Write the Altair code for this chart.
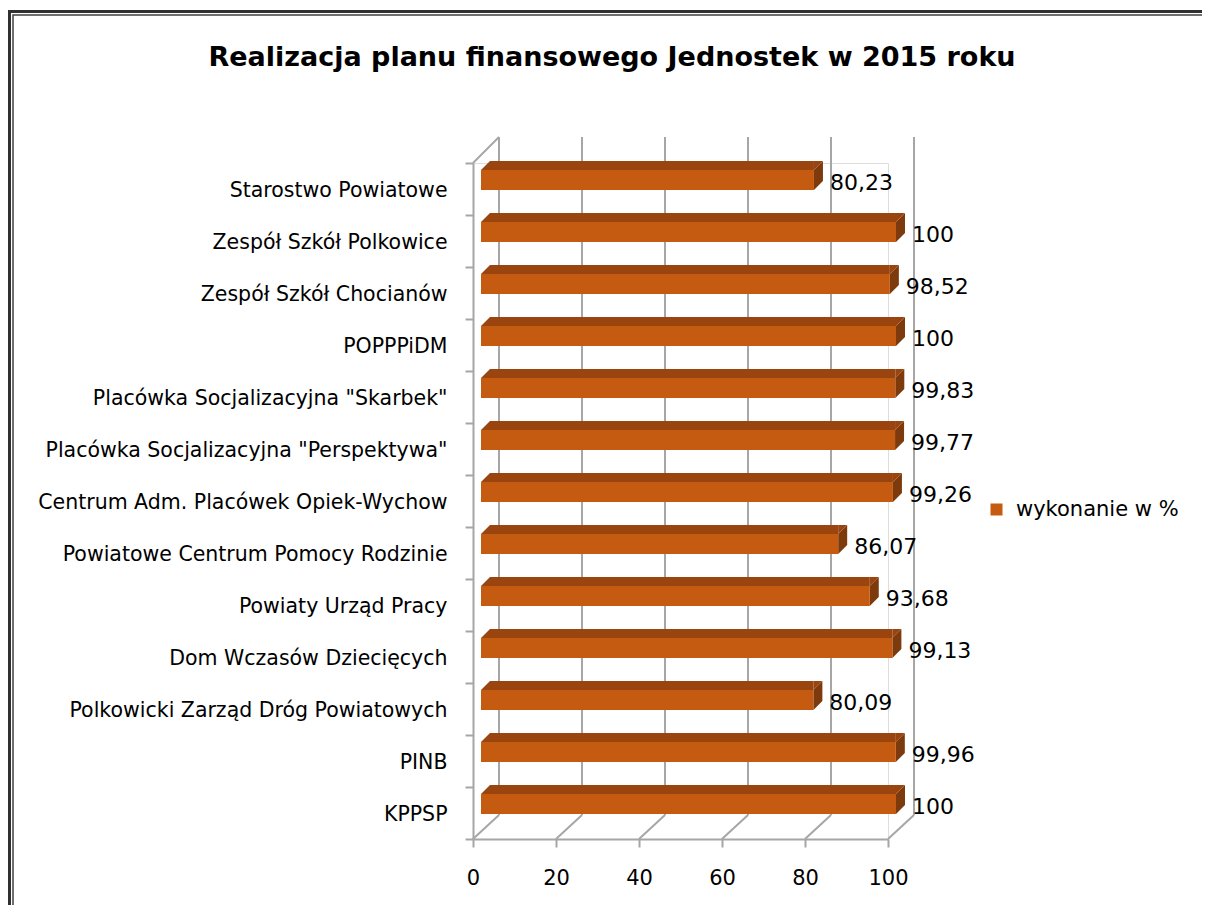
import altair as alt
import pandas as pd

categories = [
    "Starostwo Powiatowe",
    "Zespół Szkół Polkowice",
    "Zespół Szkół Chocianów",
    "POPPPiDM",
    'Placówka Socjalizacyjna "Skarbek"',
    'Placówka Socjalizacyjna "Perspektywa"',
    "Centrum Adm. Placówek Opiek-Wychow",
    "Powiatowe Centrum Pomocy Rodzinie",
    "Powiaty Urząd Pracy",
    "Dom Wczasów Dziecięcych",
    "Polkowicki Zarząd Dróg Powiatowych",
    "PINB",
    "KPPSP",
]
values = [80.23, 100, 98.52, 100, 99.83, 99.77, 99.26, 86.07, 93.68, 99.13, 80.09, 99.96, 100]
series_name = "wykonanie w %"
x_ticks = [0, 20, 40, 60, 80, 100]
title_text = "Realizacja planu finansowego Jednostek w 2015 roku"

FONT = "DejaVu Sans"
FRONT = "#C55A11"
TOP = "#9A4510"
SIDE = "#7D3A0C"
GRID = "#A6A6A6"

df = pd.DataFrame({
    "cat": categories,
    "val": values,
    "label": [f"{v:g}".replace(".", ",") for v in values],
    "series": [series_name] * len(values),
})
tdf = pd.DataFrame({"t": x_ticks})
one = pd.DataFrame({"t": [0]})

W, H = 415, 676
PAD = {"left": 465, "top": 155, "right": 314, "bottom": 66}
RIGHT_EDGE = W + PAD["right"]
BOTTOM_EDGE = H + PAD["bottom"]

D = 9          # 3-D depth in pixels
F = 8          # front face shift from axis frame
BH = 20        # bar face height

xscale = alt.Scale(domain=[0, 100], nice=False, zero=True)
X = alt.X("val:Q", scale=xscale,
          axis=alt.Axis(values=x_ticks, grid=False, title=None, domainColor=GRID,
                        domainWidth=2, tickColor=GRID, tickWidth=2, tickSize=8,
                        labelFontSize=21, labelFont=FONT, labelColor="black",
                        labelPadding=20, labelFlush=False))
Y = alt.Y("cat:N", sort=categories,
          scale=alt.Scale(paddingInner=0, paddingOuter=0),
          axis=alt.Axis(title=None, grid=False, domainColor=GRID, domainWidth=2,
                        tickColor=GRID, tickWidth=2, tickSize=8, tickBand="extent",
                        labelFontSize=20.5, labelFont=FONT, labelColor="black",
                        labelPadding=18, labelOffset=1, labelLimit=460))
XV = alt.X("val:Q", scale=xscale)

base = alt.Chart(df)

grid = alt.Chart(tdf).mark_rule(color=GRID, strokeWidth=2, xOffset=26, x2Offset=26).encode(
    x=alt.X("t:Q", scale=xscale), y=alt.value(-26), y2=alt.value(652))
floor = alt.Chart(tdf).mark_rule(color=GRID, strokeWidth=2, xOffset=26, x2Offset=0).encode(
    x=alt.X("t:Q", scale=xscale), x2="t:Q", y=alt.value(652), y2=alt.value(676))
leftdiag = alt.Chart(one).mark_rule(color=GRID, strokeWidth=2, xOffset=0, x2Offset=26).encode(
    x=alt.X("t:Q", scale=xscale), x2="t:Q", y=alt.value(0), y2=alt.value(-26))

FY = -9
TY = FY - BH / 2 - D / 2
SY = FY - D / 2

side_rect = base.mark_bar(color=SIDE, size=BH - D, xOffset=F, x2Offset=F + D,
                          yOffset=SY, y2Offset=SY).encode(x=XV, x2="val:Q", y=Y)
tri_size = D * D
side_tri_top = base.mark_point(shape="M-1,1L1,-1L1,1Z", filled=True, size=tri_size, color=SIDE,
                               opacity=1, strokeWidth=0, xOffset=F + D / 2, yOffset=TY).encode(
    x=XV, y=Y)
side_tri_bot = base.mark_point(shape="M-1,-1L-1,1L1,-1Z", filled=True, size=tri_size, color=SIDE,
                               opacity=1, strokeWidth=0, xOffset=F + D / 2,
                               yOffset=FY + BH / 2 - D / 2).encode(x=XV, y=Y)
top_rect = base.mark_bar(color=TOP, size=D, xOffset=F, x2Offset=F + D,
                         yOffset=TY, y2Offset=TY).encode(x=XV, x2=alt.datum(0), y=Y)
top_tri_left = base.mark_point(shape="M-1,1L1,-1L1,1Z", filled=True, size=tri_size, color=TOP,
                               opacity=1, strokeWidth=0, xOffset=F + D / 2, yOffset=TY).encode(
    x=alt.datum(0), y=Y)
top_tri_right = base.mark_point(shape="M-1,-1L1,-1L-1,1Z", filled=True, size=tri_size, color=TOP,
                                opacity=1, strokeWidth=0, xOffset=F + D / 2, yOffset=TY).encode(
    x=XV, y=Y)

front = base.mark_bar(size=BH, xOffset=F, x2Offset=F, yOffset=FY, y2Offset=FY).encode(
    x=X, y=Y,
    color=alt.Color("series:N", scale=alt.Scale(range=[FRONT]),
                    legend=alt.Legend(title=None, orient="none", legendX=513, legendY=336,
                                      symbolType="square", symbolSize=144, symbolStrokeWidth=0,
                                      labelFontSize=21, labelFont=FONT, labelColor="black",
                                      labelOffset=9, padding=0, labelLimit=300)))
labels = base.mark_text(align="left", baseline="middle", fontSize=22, font=FONT,
                        color="black", xOffset=24, yOffset=-6).encode(
    x=XV, y=Y, text="label:N")

title = alt.Chart(one).mark_text(text=title_text, fontSize=27, font=FONT, fontWeight="bold",
                                 color="black", align="center", baseline="middle").encode(
    x=alt.value(139), y=alt.value(-105))

# chart frame: double line, right and bottom edges lie outside the page
frame_out = alt.Chart(one).mark_rect(fill="white", fillOpacity=0, stroke="#303030",
                                     strokeWidth=3).encode(
    x=alt.value(-463.5), x2=alt.value(RIGHT_EDGE + 60),
    y=alt.value(-151.5), y2=alt.value(BOTTOM_EDGE + 60))
frame_in = alt.Chart(one).mark_rect(fill="white", fillOpacity=0, stroke="#404040",
                                    strokeWidth=1.5).encode(
    x=alt.value(-460), x2=alt.value(RIGHT_EDGE + 60),
    y=alt.value(-148), y2=alt.value(BOTTOM_EDGE + 60))

chart = alt.layer(
    grid, floor, leftdiag,
    side_rect, side_tri_top, side_tri_bot,
    top_rect, top_tri_left, top_tri_right,
    front, labels, title, frame_out, frame_in,
).properties(
    width=W, height=H,
    autosize=alt.AutoSizeParams(type="none"),
    padding=PAD,
).configure_view(stroke=None).configure(background="white")

chart.save("out.html", embed_options={"renderer": "svg", "actions": False})
